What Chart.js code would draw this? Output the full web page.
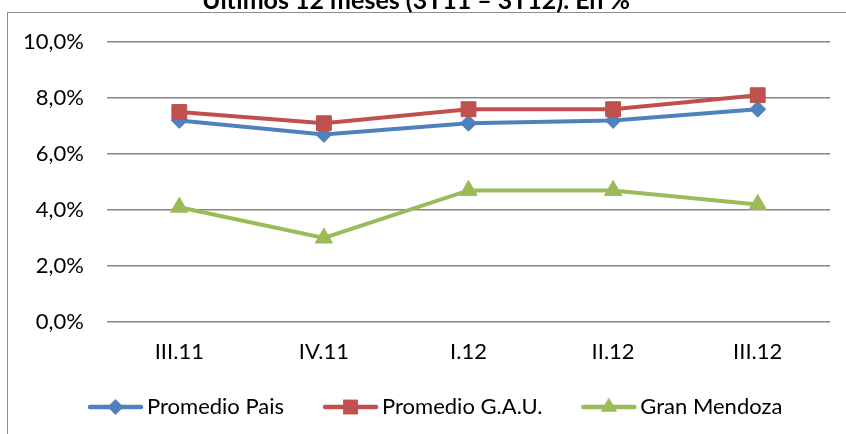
<!DOCTYPE html>
<html><head><meta charset="utf-8">
<script src="https://cdn.jsdelivr.net/npm/chart.js@4"></script>
<style>
html,body{margin:0;padding:0;background:#fff;overflow:hidden}
#wrap{position:relative;width:846px;height:434px;overflow:hidden}
#frame{position:absolute;left:7px;top:12px;width:900px;height:500px;border-left:1px solid #8c8c8c;border-top:1px solid #8c8c8c;box-sizing:border-box}
canvas{position:absolute;left:0;top:0}
</style></head><body>
<div id="wrap"><div id="frame"></div><canvas id="c" width="846" height="434"></canvas></div>
<script>
const titleText = 'Últimos 12 meses (3T11 – 3T12). En %';
const categories = ['III.11', 'IV.11', 'I.12', 'II.12', 'III.12'];
const promedioPais = [7.2, 6.7, 7.1, 7.2, 7.6];
const promedioGAU = [7.5, 7.1, 7.6, 7.6, 8.1];
const granMendoza = [4.1, 3.0, 4.7, 4.7, 4.2];
const yTickValues = [0, 2, 4, 6, 8, 10];

const BLUE = '#4F81BD', RED = '#C0504D', GREEN = '#9BBB59';
const FONT = 'Lato';
const FONT_SIZE = 22;
const LEGEND_SHIFT = 34;
const LEGEND_BOX = 75;       // legend box width (includes transparent gap on its left)
const ICON_CANVAS = LEGEND_BOX + 16;

function legendIcon(color, style, radius) {
  const c = document.createElement('canvas');
  c.width = ICON_CANVAS; c.height = 20;
  const x = c.getContext('2d');
  const x0 = ICON_CANVAS - 56, x1 = ICON_CANVAS - 1, cy = 10;
  x.strokeStyle = color; x.lineWidth = 4.5; x.lineCap = 'round';
  x.beginPath(); x.moveTo(x0 + 2, cy); x.lineTo(x1 - 2, cy); x.stroke();
  x.fillStyle = color; x.strokeStyle = color;
  Chart.helpers.drawPoint(x, {pointStyle: style, radius: radius, borderWidth: 0, rotation: 0}, (x0 + x1) / 2, cy);
  return c;
}

const titlePlugin = {
  id: 'cropTitle',
  afterLayout(chart) {
    const lg = chart.legend;
    if (lg) { lg.left += LEGEND_SHIFT; lg.right += LEGEND_SHIFT; }
  },
  afterDraw(chart) {
    const ctx = chart.ctx;
    ctx.save();
    ctx.font = 'bold 25px ' + FONT;
    ctx.fillStyle = '#000';
    ctx.textAlign = 'center';
    ctx.textBaseline = 'alphabetic';
    ctx.fillText(titleText, 416, 9);
    ctx.restore();
  }
};

const datasets = [
  {label: 'Promedio Pais', data: promedioPais, borderColor: BLUE, backgroundColor: BLUE,
   pointStyle: 'rectRot', pointRadius: 8, order: 3, icon: ['rectRot', 8]},
  {label: 'Promedio G.A.U.', data: promedioGAU, borderColor: RED, backgroundColor: RED,
   pointStyle: 'rect', pointRadius: 10.5, order: 2, icon: ['rect', 10.5]},
  {label: 'Gran Mendoza', data: granMendoza, borderColor: GREEN, backgroundColor: GREEN,
   pointStyle: 'triangle', pointRadius: 10, order: 1, icon: ['triangle', 9.5]}
].map(d => Object.assign({borderWidth: 4, tension: 0, pointBorderWidth: 1, pointBorderColor: d.borderColor,
  pointBackgroundColor: d.borderColor, pointHoverRadius: d.pointRadius}, d));

new Chart(document.getElementById('c'), {
  type: 'line',
  data: {labels: categories, datasets: datasets},
  options: {
    responsive: false,
    animation: false,
    layout: {padding: {left: 15, right: 16, top: 42, bottom: 6}},
    plugins: {
      title: {display: false},
      tooltip: {enabled: false},
      legend: {
        position: 'bottom',
        align: 'start',
        labels: {
          usePointStyle: true,
          pointStyleWidth: LEGEND_BOX,
          padding: 12,
          color: '#000',
          font: {family: FONT, size: FONT_SIZE},
          generateLabels(chart) {
            return chart.data.datasets.map((ds, i) => ({
              text: ds.label,
              pointStyle: legendIcon(ds.borderColor, ds.icon[0], ds.icon[1]),
              fillStyle: ds.borderColor, strokeStyle: ds.borderColor,
              lineWidth: 0, hidden: false, datasetIndex: i, fontColor: '#000'
            }));
          }
        }
      }
    },
    scales: {
      x: {
        offset: true,
        grid: {display: false, drawTicks: false},
        border: {display: false},
        ticks: {color: '#000', font: {family: FONT, size: FONT_SIZE}, padding: 17},
        afterFit(scale) { scale.height = 62; }
      },
      y: {
        min: 0, max: 10,
        afterBuildTicks(scale) { scale.ticks = yTickValues.map(v => ({value: v})); },
        grid: {color: '#868686', lineWidth: 1.5, drawTicks: false},
        border: {display: false},
        ticks: {
          color: '#000', font: {family: FONT, size: FONT_SIZE}, padding: 23,
          callback: v => v.toFixed(1).replace('.', ',') + '%'
        },
        afterFit(scale) { scale.width = 92; }
      }
    }
  },
  plugins: [titlePlugin]
});
</script>
</body></html>
